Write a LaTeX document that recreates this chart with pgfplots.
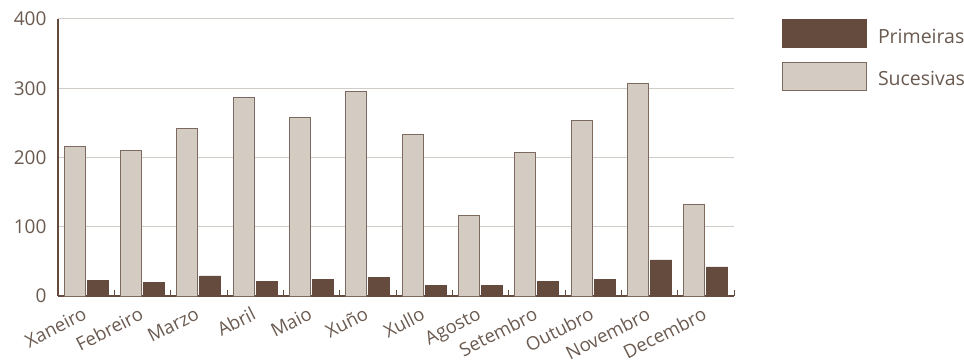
\documentclass[border=0pt]{standalone}
\usepackage{pgfplots}
\pgfplotsset{compat=1.18}
\usepackage{fontspec}
\setmainfont{Open Sans}
\usetikzlibrary{calc}
\definecolor{darkb}{HTML}{644B3E}
\definecolor{lightb}{HTML}{D4CCC3}
\definecolor{edgeb}{HTML}{7D6A5E}
\definecolor{gridc}{HTML}{D2CCC6}
\definecolor{txt}{HTML}{6A5A50}
\begin{document}
\begin{tikzpicture}
\begin{axis}[
 scale only axis, width=676pt, height=277pt,
 xmin=-0.5, xmax=11.5, ymin=0, ymax=400,
 axis lines=left, axis line style={-, draw=darkb, line width=1.2pt},
 ytick={0,100,200,300,400},
 ymajorgrids, grid style={gridc, line width=1pt},
 major tick length=0pt,
 xtick={0,...,11},
 xticklabels={Xaneiro,Febreiro,Marzo,Abril,Maio,Xuño,Xullo,Agosto,Setembro,Outubro,Novembro,Decembro},
 xticklabel style={yshift=-6pt, xshift=-3pt, rotate=27, anchor=north east, font=\fontsize{18.5}{18.5}\selectfont, text=txt, inner sep=3pt},
 yticklabel style={font=\fontsize{19}{19}\selectfont, text=txt, xshift=-8pt},
 /pgf/number format/assume math mode=true,
 extra x ticks={0.5,1.5,...,11.5},
 extra x tick labels={},
 extra x tick style={major tick length=6pt, tick align=inside, tick style={draw=darkb, line width=1pt}, grid=none},
 ybar, bar width=21pt,
 legend style={at={(1.071,1)}, anchor=north west, draw=none, inner sep=0pt, font=\fontsize{19.5}{19.5}\selectfont, text=txt, row sep=14pt, column sep=11pt, nodes={inner sep=0pt}},
 legend cell align=left,
 legend image code/.code={\draw[#1] (0pt,-11pt) rectangle (84pt,17pt);},
 clip=false,
]
\addplot[bar shift=11.5pt, fill=darkb, draw=darkb, line width=0.8pt] coordinates {
(0,23) (1,19) (2,29) (3,21) (4,24) (5,27) (6,15) (7,15) (8,21) (9,24) (10,52) (11,42)};
\addlegendentry{Primeiras}
\addplot[bar shift=-11.5pt, fill=lightb, draw=edgeb, line width=0.8pt] coordinates {
(0,216) (1,210) (2,242) (3,287) (4,258) (5,295) (6,233) (7,116) (8,207) (9,253) (10,307) (11,132)};
\addlegendentry{Sucesivas}
\coordinate (sw) at (rel axis cs:0,0);
\coordinate (ne) at (rel axis cs:1,1);
\end{axis}
\pgfresetboundingbox
\path[use as bounding box] ($(sw)+(-58pt,-67pt)$) rectangle ($(ne)+(230pt,19pt)$);
\end{tikzpicture}
\end{document}
